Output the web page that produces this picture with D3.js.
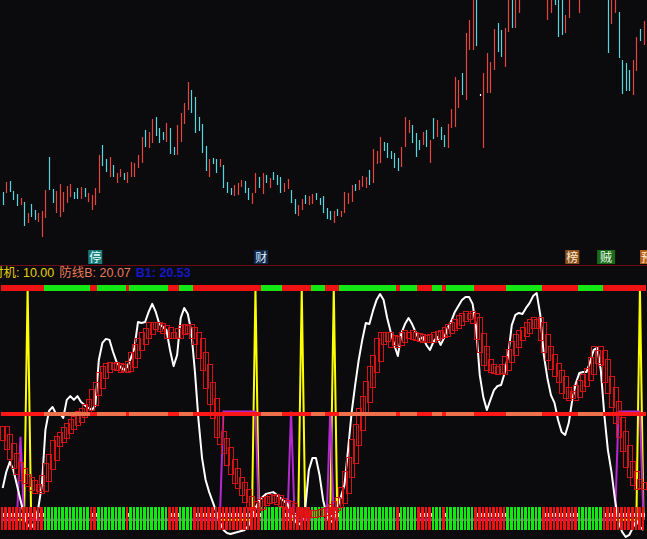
<!DOCTYPE html>
<html><head><meta charset="utf-8">
<script src="https://cdn.jsdelivr.net/npm/d3@7"></script>
<style>html,body{margin:0;padding:0;background:#0b0b0e;overflow:hidden}svg{display:block}</style>
</head><body><svg id="c" width="647" height="539"></svg>
<script>
// ---- price bars (high, low, colour: 1 = up/red, 0 = down/cyan, 2 = doji) ----
const highs = [15.8,16.8,16.9,15.9,15.6,15.2,14.8,13.7,14.6,14.0,13.7,13.9,16.0,19.3,16.1,15.9,16.6,15.8,16.4,16.6,
15.8,16.2,16.3,16.2,15.7,15.5,16.2,19.5,20.5,19.1,19.3,18.5,17.7,18.1,17.7,17.8,18.8,18.7,19.5,21.3,
22.0,21.8,23.1,23.3,22.2,21.8,22.7,22.2,20.3,22.5,23.7,24.7,26.8,26.0,25.3,23.3,22.6,20.4,19.1,19.2,
19.1,19.1,18.5,16.8,16.2,16.5,16.7,17.0,16.9,16.2,15.7,17.7,17.3,17.7,17.5,17.2,17.8,17.5,17.3,16.7,
17.1,16.0,15.1,14.5,15.1,15.5,15.4,15.6,15.7,15.2,15.4,14.2,13.9,13.9,14.1,13.9,15.8,15.7,16.5,16.6,
17.0,17.4,17.3,18.0,20.1,19.9,21.3,20.8,20.7,19.9,19.7,19.2,20.3,23.3,23.0,22.5,21.7,21.0,21.8,22.0,
21.0,23.2,23.0,22.3,21.5,22.6,24.1,27.3,27.0,27.7,31.7,33.0,35.5,35.5,25.6,27.7,29.7,28.8,32.1,32.7,
32.0,32.2,35.5,35.5,35.5,36.0,37.5,38.5,39.0,38.6,38.0,38.4,37.8,35.5,35.5,35.5,35.5,35.5,33.5,35.5,
37.0,37.5,35.5,37.5,38.0,38.6,38.8,38.3,37.6,37.0,35.5,35.5,35.5,33.8,29.0,28.7,28.0,29.0,31.3,32.1,32.9];
const lows = [14.5,15.7,15.8,15.0,14.4,14.5,12.4,12.7,13.3,13.0,12.8,11.3,13.2,16.0,14.7,13.7,13.3,13.8,14.7,15.3,
15.1,15.1,15.1,15.3,14.8,14.0,14.5,15.7,18.4,17.8,17.3,17.3,16.7,17.3,17.0,16.7,17.3,17.3,18.2,18.7,
20.3,20.2,20.7,21.4,20.7,21.0,20.8,19.6,19.5,19.5,20.8,22.6,24.0,23.7,21.7,21.9,19.7,17.9,17.3,18.6,
17.7,18.3,16.2,15.7,15.5,15.4,15.5,16.3,15.7,15.0,14.6,15.7,16.2,15.6,16.7,16.2,17.0,16.5,15.7,15.8,
16.1,14.7,13.6,13.4,14.0,14.6,14.5,14.6,15.0,14.5,13.7,13.1,13.0,12.7,13.4,13.3,13.7,14.6,14.8,15.9,
16.0,16.3,16.2,16.5,16.7,18.6,18.7,19.9,19.2,19.1,18.2,17.9,18.3,20.3,21.7,20.7,19.3,20.0,20.5,20.3,
18.7,21.1,21.3,21.0,20.3,20.2,22.2,22.3,24.2,25.5,25.0,30.0,30.0,30.4,25.4,20.2,25.7,25.7,28.0,29.8,
29.3,28.3,31.8,32.2,32.2,33.7,35.2,36.0,36.5,36.2,35.8,36.0,35.3,33.0,33.7,34.5,31.3,31.5,31.7,33.2,
35.2,35.4,33.7,35.3,35.8,36.2,36.4,35.9,35.4,35.2,29.7,32.6,33.7,29.2,25.6,25.9,25.9,25.5,27.9,30.9,30.5];
const barColor = [0,1,0,0,0,1,0,1,0,0,1,1,1,0,0,1,1,1,1,1,
0,0,1,0,1,1,1,1,0,0,1,0,1,1,0,1,1,1,1,1,
0,1,1,0,0,0,1,0,0,1,1,1,1,0,0,0,0,0,1,0,
0,1,0,0,0,1,1,1,0,0,1,1,0,1,0,1,0,0,0,1,
1,0,0,1,1,0,1,1,0,0,0,0,0,1,0,1,1,1,1,0,
1,1,1,0,1,1,1,0,0,0,0,0,1,1,1,0,0,0,1,0,
1,0,1,0,0,1,1,1,1,0,1,1,1,0,2,1,1,1,1,0,
0,1,1,0,1,1,1,1,0,0,1,0,0,1,1,0,0,0,1,1,
1,0,1,1,1,0,1,0,0,0,0,1,1,0,0,0,0,1,1,0,1];

// ---- oscillator panel ----
const oscWhite = [20.6,27.0,31.0,27.8,21.8,15.9,9.9,6.0,4.8,7.1,12.7,21.8,43.7,51.2,52.8,50.0,50.4,48.4,55.6,57.1,
55.6,57.1,54.8,53.6,52.4,51.6,53.2,71.4,78.2,79.8,79.4,74.6,70.6,68.7,67.5,68.7,72.2,76.2,86.5,86.1,
86.5,90.5,93.7,90.5,85.7,84.5,83.3,75.4,69.0,73.4,88.1,92.1,89.7,82.5,66.7,47.6,32.5,23.8,19.0,15.1,
11.1,7.1,4.0,2.8,2.4,2.8,3.2,3.6,4.0,5.6,8.7,12.7,15.5,17.1,18.3,18.7,19.0,17.9,16.7,15.5,
14.3,11.1,7.9,6.0,7.1,12.7,27.8,32.5,32.5,25.8,15.9,9.9,7.1,7.9,12.7,17.1,21.8,35.7,50.4,61.5,
71.4,79.4,86.1,85.7,90.9,95.2,97.6,95.2,88.1,82.5,77.4,73.0,82.1,85.7,88.1,85.7,82.5,79.4,80.6,77.4,
75.4,78.6,80.6,77.4,80.2,84.1,86.9,90.5,92.9,95.2,96.4,96.4,93.7,84.1,65.5,56.7,51.6,55.6,59.5,61.1,
61.5,66.3,73.4,85.3,89.3,90.1,89.7,92.1,94.0,96.8,98.0,89.3,73.4,64.3,57.5,54.4,47.6,42.9,41.7,46.4,
55.6,62.3,66.3,66.7,66.7,70.6,75.4,76.2,67.5,49.6,35.7,27.0,15.9,7.1,3.2,1.2,2.0,4.8,7.9,5.2,4.0];
const oscStep = [43.7,40.5,37.3,33.3,29.4,27.0,25.0,23.8,22.6,21.0,19.8,20.6,24.6,29.0,32.9,38.1,39.7,41.3,43.3,45.2,
46.8,48.0,50.0,50.8,52.4,54.4,58.7,61.5,65.1,67.5,68.7,69.4,68.7,68.3,67.5,67.9,69.8,73.4,76.2,78.6,
81.0,82.9,85.3,85.3,84.9,84.1,83.3,81.3,81.0,81.3,82.9,84.1,84.5,83.3,81.0,78.6,73.4,68.3,61.5,54.8,
49.6,41.7,38.9,35.7,30.6,27.0,23.8,21.8,19.0,15.9,13.9,12.7,13.1,14.7,15.5,15.9,16.7,16.3,15.1,14.3,
13.9,13.1,11.9,11.5,11.1,10.7,10.3,10.3,10.7,10.7,11.1,11.5,11.9,12.7,13.9,15.5,19.8,25.8,31.7,38.5,
44.8,50.8,55.6,61.9,67.5,72.2,78.6,81.0,81.0,79.8,77.4,78.2,79.4,81.3,82.1,81.3,80.6,80.2,79.8,79.4,
79.4,80.2,81.0,81.7,82.1,83.3,84.5,85.3,86.5,87.7,88.5,89.3,88.5,87.3,80.6,75.4,70.6,68.3,67.5,67.1,
66.7,68.3,71.8,74.6,77.4,80.2,82.1,83.3,85.3,86.5,87.3,85.3,80.2,75.4,72.6,69.0,65.9,63.5,59.5,57.5,
56.7,57.9,60.3,62.3,64.3,66.7,71.4,75.4,74.2,70.6,63.5,59.5,53.6,47.6,41.7,36.5,29.8,25.8,23.0,21.4,21.8];
const yellowBars = [7, 71, 84, 93, 179];          // signal spikes (value 100)
const signalBase = 8;                              // resting level of the signal lines
const purpleLevels = [[5,41],[62,51],[63,51],[64,51],[65,51],[66,51],[67,51],[68,51],[69,51],[70,51],[71,51],
  [81,51],[92,51],[173,51],[174,51],[175,51],[176,51],[177,51],[178,51],[179,51]];
const trendRuns = [[0,12],[1,13],[0,2],[1,8],[0,1],[1,11],[0,3],[1,4],[0,19],[1,6],[0,8],[1,4],[0,4],[1,16],
  [0,1],[1,5],[0,4],[1,3],[0,1],[1,8],[0,9],[1,10],[0,10],[1,7],[0,12]];   // 1 = green
const stripLow = 4, stripHigh = 13.2, midLevel = 50, topLevel = 100;
const markers = [{bar:26, t:"停", bg:"#1b7b78", fg:"#e0ffff"},{bar:72.6, t:"财", bg:"#12284a", fg:"#d8ecff"},
  {bar:160, t:"榜", bg:"#8a4f1e", fg:"#ffeccc"},{bar:169.5, t:"贼", bg:"#1a6a1a", fg:"#eaffea"},{bar:181, t:"预", bg:"#b8621a", fg:"#fff0d8"}];
const infoTexts = [{t:"时机: 10.00", c:"#e8d000", w:"normal"},{t:"防线B: 20.07", c:"#ea7a5a", w:"normal"},{t:"B1: 20.53", c:"#1616c8", w:"bold"}];

// ---- build ----
const N = highs.length;
const svg = d3.select("#c");
svg.append("rect").attr("width",647).attr("height",539).attr("fill","#0b0b0e");
const x = d3.scaleLinear().domain([0, N-1]).range([2.7, 643.5]);
const stepW = x(1) - x(0);
const yP = d3.scaleLinear().domain([10, 35]).range([250, 0]);
const yO = d3.scaleLinear().domain([0, 100]).range([540, 288]);

const defs = svg.append("defs");
defs.append("clipPath").attr("id","cpTop").append("rect").attr("x",0).attr("y",0).attr("width",647).attr("height",264);
defs.append("clipPath").attr("id","cpLow").append("rect").attr("x",0).attr("y",282).attr("width",647).attr("height",257);

// candles
const candleCol = ["#56d6dc","#e5453c","#ffffff"];
svg.append("g").attr("clip-path","url(#cpTop)").selectAll("line").data(d3.range(N)).join("line")
  .attr("x1", i => Math.round(x(i))+0.5).attr("x2", i => Math.round(x(i))+0.5)
  .attr("y1", i => yP(highs[i])).attr("y2", i => Math.max(yP(lows[i]), yP(highs[i])+1.2))
  .attr("stroke", i => candleCol[barColor[i]]).attr("stroke-width", 1.2);

// separator
svg.append("line").attr("x1",0).attr("x2",647).attr("y1",265.5).attr("y2",265.5).attr("stroke","#6e0c16").attr("stroke-width",1);

// markers
const mg = svg.append("g");
markers.forEach(m => {
  const cx = x(m.bar);
  const w = m.t === "贼" ? 18 : 14;
  mg.append("rect").attr("x", cx - w/2).attr("y",250).attr("width",w).attr("height",14).attr("fill",m.bg);
  mg.append("text").attr("x",cx).attr("y",261.5).attr("text-anchor","middle").attr("fill",m.fg)
    .attr("font-family","'Noto Sans CJK SC',sans-serif").attr("font-size",12).text(m.t);
});

// info row
const info = svg.append("text").attr("x",-9).attr("y",277)
  .attr("font-family","'Liberation Sans','Noto Sans CJK SC',sans-serif").attr("font-size",12.5);
infoTexts.forEach((d,k) => info.append("tspan").attr("dx", k ? 5 : 0).attr("fill", d.c).attr("font-weight", d.w).text(d.t));

// trend array from runs
const trend = [];
trendRuns.forEach(([v,n]) => { for (let k=0;k<n;k++) trend.push(v); });

const low = svg.append("g").attr("clip-path","url(#cpLow)");

// yellow spikes
const yellowSeries = d3.range(N).map(i => yellowBars.includes(i) ? 100 : signalBase);
low.append("path").datum(yellowSeries)
  .attr("d", d3.line().x((d,i)=>x(i)).y(d=>yO(d)))
  .attr("fill","none").attr("stroke","#ffff00").attr("stroke-width",2);

// purple
const purpleSeries = d3.range(N).map(() => signalBase);
purpleLevels.forEach(([b,v]) => purpleSeries[b] = v);
low.append("path").datum(purpleSeries)
  .attr("d", d3.line().x((d,i)=>x(i)).y(d=>yO(d)))
  .attr("fill","none").attr("stroke","#b52ad0").attr("stroke-width",2);

// white oscillator
low.append("path").datum(oscWhite)
  .attr("d", d3.line().x((d,i)=>x(i)).y(d=>yO(d)))
  .attr("fill","none").attr("stroke","#ffffff").attr("stroke-width",2).attr("stroke-linejoin","round");

// bottom strip
const bs = low.append("g").attr("shape-rendering","crispEdges");
const cellL = i => Math.round(x(i) - stepW/2), cellR = i => Math.round(x(i) + stepW/2);
bs.selectAll("rect").data(d3.range(N)).join("rect")
  .attr("x", i => cellL(i)).attr("width", i => Math.max(1, cellR(i) - cellL(i) - 1))
  .attr("y", Math.round(yO(stripHigh))).attr("height", Math.round(yO(stripLow)) - Math.round(yO(stripHigh)))
  .attr("fill", i => trend[i] ? "#12e812" : "#ee1212");
bs.selectAll("line").data(d3.range(N).filter(i => !trend[i])).join("line")
  .attr("x1", i => cellR(i) - 0.5).attr("x2", i => cellR(i) - 0.5)
  .attr("y1", 513).attr("y2", 517).attr("stroke","#f4d8d8").attr("stroke-width",1);

// staircase boxes
const bx = low.append("g").attr("shape-rendering","crispEdges");
bx.selectAll("rect").data(d3.range(N)).join("rect")
  .attr("x", i => Math.round(x(i) - 2.5) + 0.5).attr("width", 5)
  .attr("y", i => Math.min(yO(oscStep[Math.max(0,i-1)]), yO(oscStep[Math.min(N-1,i+1)])) - 3)
  .attr("height", i => Math.abs(yO(oscStep[Math.max(0,i-1)]) - yO(oscStep[Math.min(N-1,i+1)])) + 6)
  .attr("fill","none").attr("stroke","#d41414").attr("stroke-width",1);

// mid line
low.append("g").attr("shape-rendering","crispEdges").selectAll("rect").data(d3.range(N)).join("rect")
  .attr("x", i => x(i) - stepW/2).attr("width", stepW + 0.3)
  .attr("y", yO(midLevel) - 2).attr("height", 4)
  .attr("fill", i => trend[i] ? "#f0704e" : "#ff1616");

// top strip
svg.append("g").attr("shape-rendering","crispEdges").selectAll("rect").data(d3.range(N)).join("rect")
  .attr("x", i => x(i) - stepW/2).attr("width", stepW + 0.3)
  .attr("y", yO(topLevel) - 3).attr("height", 6)
  .attr("fill", i => trend[i] ? "#14e814" : "#ee1212");
</script></body></html>
